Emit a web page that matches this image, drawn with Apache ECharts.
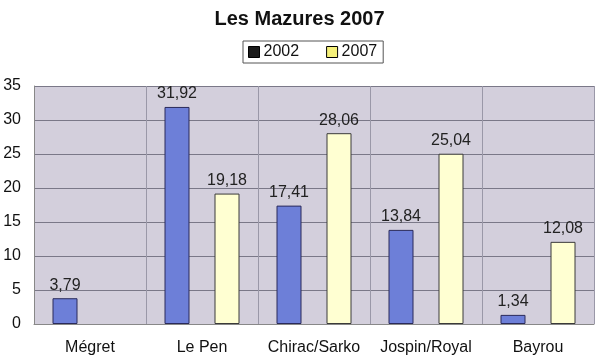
<!DOCTYPE html>
<html><head><meta charset="utf-8">
<script src="https://cdn.jsdelivr.net/npm/echarts@6/dist/echarts.min.js"></script>
<style>html,body{margin:0;padding:0;background:#fff}#c{width:599px;height:362px}</style>
</head><body><div id="c"></div>
<script>
const categories = ['Mégret', 'Le Pen', 'Chirac/Sarko', 'Jospin/Royal', 'Bayrou'];
const values2002 = [3.79, 31.92, 17.41, 13.84, 1.34];
const values2007 = [null, 19.18, 28.06, 25.04, 12.08];
const yTicks = [0, 5, 10, 15, 20, 25, 30, 35];

const chart = echarts.init(document.getElementById('c'));
const fmt = p => p.value == null ? '' : String(p.value.toFixed(2)).replace('.', ',');
const labelStyle = {show: true, position: 'top', formatter: fmt, fontFamily: 'Liberation Sans, Arial', fontSize: 16, color: '#222', distance: 5};
chart.setOption({
  animation: false,
  title: {text: 'Les Mazures 2007', left: 'center', top: 4, textStyle: {fontFamily: 'Liberation Sans, Arial', fontSize: 20, fontWeight: 'bold', color: '#111'}},
  legend: {
    top: 41, left: 243, itemWidth: 11, itemHeight: 11, itemGap: 27, icon: 'rect',
    borderColor: '#555', borderWidth: 1, padding: [3, 6, 3, 5],
    textStyle: {fontFamily: 'Liberation Sans, Arial', fontSize: 16, color: '#111', padding: [0, 0, 0, -1]},
    data: [{name: '2002', itemStyle: {color: '#1a1a1a', borderColor: '#000', borderWidth: 1}},
           {name: '2007', itemStyle: {color: '#f5f07a', borderColor: '#000', borderWidth: 1}}]
  },
  grid: {left: 34, right: 5, top: 86, bottom: 38, backgroundColor: '#d3cfdc', show: true, borderWidth: 0},
  xAxis: {
    type: 'category', data: categories,
    axisLine: {lineStyle: {color: '#888'}}, axisTick: {show: false},
    splitLine: {show: true, interval: 0, lineStyle: {color: '#9a98a8', width: 1}},
    axisLabel: {interval: 0, fontFamily: 'Liberation Sans, Arial', fontSize: 16, color: '#111', margin: 16}
  },
  yAxis: {
    type: 'value', min: yTicks[0], max: yTicks[yTicks.length - 1], interval: 5,
    axisLine: {show: true, lineStyle: {color: '#888'}}, axisTick: {show: false},
    splitLine: {lineStyle: {color: '#7a7888', width: 1}},
    axisLabel: {fontFamily: 'Liberation Sans, Arial', fontSize: 16, color: '#111', margin: 13}
  },
  series: [
    {name: '2002', type: 'bar', data: values2002, barWidth: 25, barGap: '100%',
     itemStyle: {color: '#6d7fd8', borderColor: '#2a2a5a', borderWidth: 1}, label: labelStyle},
    {name: '2007', type: 'bar', data: values2007, barWidth: 25,
     itemStyle: {color: '#ffffd2', borderColor: '#3a3a3a', borderWidth: 1}, label: labelStyle}
  ]
});
</script></body></html>
